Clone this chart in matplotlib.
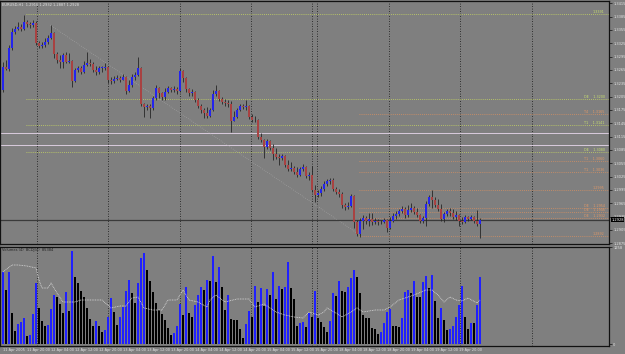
import matplotlib
matplotlib.use("Agg")
import matplotlib.pyplot as plt
import matplotlib.transforms as mtransforms
import numpy as np

W, H = 625, 354
BG = '#7f7f7f'
TXT = '#e4e4e4'

# EURUSD H1, prices in points (1e-4)
open0 = 13220
close_pts = [
    13272, 13267, 13314, 13350, 13357, 13362, 13357, 13373, 13368, 13366,
    13371, 13326, 13319, 13321, 13328, 13337, 13348, 13301, 13288, 13283,
    13299, 13283, 13285, 13240, 13265, 13270, 13260, 13276, 13281, 13278,
    13265, 13260, 13270, 13270, 13272, 13242, 13240, 13245, 13247, 13242,
    13249, 13218, 13231, 13249, 13254, 13270, 13188, 13182, 13184, 13180,
    13202, 13224, 13213, 13204, 13216, 13224, 13220, 13222, 13218, 13263,
    13247, 13222, 13213, 13216, 13198, 13184, 13175, 13168, 13162, 13175,
    13211, 13218, 13200, 13193, 13191, 13188, 13150, 13159, 13175, 13184,
    13182, 13184, 13159, 13152, 13152, 13114, 13108, 13092, 13105, 13090,
    13076, 13069, 13067, 13072, 13051, 13042, 13044, 13036, 13029, 13042,
    13047, 13026, 13029, 12995, 12984, 12988, 12997, 13008, 13015, 13018,
    12997, 12990, 12986, 12961, 12957, 12959, 12982, 12923, 12896, 12925,
    12932, 12925, 12930, 12923, 12925, 12923, 12923, 12928, 12910, 12925,
    12936, 12941, 12948, 12952, 12939, 12950, 12954, 12946, 12939, 12925,
    12932, 12964, 12979, 12972, 12961, 12952, 12930, 12941, 12948, 12943,
    12934, 12939, 12925, 12923, 12934, 12930, 12934, 12925, 12918, 12928]
high_pts = [
    13283, 13288, 13321, 13360, 13364, 13373, 13368, 13389, 13377, 13373,
    13377, 13375, 13330, 13328, 13337, 13344, 13366, 13350, 13306, 13299,
    13303, 13306, 13303, 13288, 13270, 13274, 13274, 13285, 13306, 13290,
    13283, 13274, 13274, 13274, 13281, 13272, 13249, 13252, 13254, 13252,
    13256, 13252, 13242, 13256, 13260, 13294, 13272, 13191, 13188, 13188,
    13206, 13231, 13227, 13216, 13224, 13229, 13227, 13229, 13227, 13270,
    13265, 13249, 13224, 13222, 13218, 13202, 13188, 13180, 13182, 13180,
    13220, 13231, 13220, 13204, 13200, 13198, 13195, 13173, 13180, 13188,
    13188, 13198, 13186, 13166, 13162, 13155, 13123, 13110, 13110, 13108,
    13098, 13090, 13076, 13076, 13074, 13062, 13058, 13049, 13047, 13047,
    13054, 13049, 13036, 13049, 13006, 12995, 13004, 13015, 13020, 13022,
    13022, 13002, 12997, 12990, 12966, 12968, 12986, 12984, 12928, 12932,
    12939, 12936, 12943, 12943, 12932, 12930, 12928, 12932, 12930, 12934,
    12943, 12948, 12952, 12959, 12957, 12961, 12966, 12959, 12954, 12941,
    12936, 12970, 12984, 12995, 12979, 12975, 12964, 12946, 12952, 12954,
    12952, 12948, 12941, 12934, 12939, 12936, 12939, 12936, 12950, 12932]
low_pts = [
    13216, 13265, 13263, 13310, 13346, 13355, 13353, 13355, 13362, 13360,
    13362, 13321, 13314, 13314, 13317, 13324, 13335, 13292, 13281, 13270,
    13270, 13281, 13281, 13227, 13238, 13260, 13256, 13258, 13274, 13274,
    13260, 13254, 13256, 13260, 13265, 13236, 13234, 13236, 13242, 13238,
    13242, 13211, 13216, 13227, 13242, 13252, 13184, 13159, 13175, 13157,
    13175, 13198, 13202, 13198, 13198, 13213, 13216, 13216, 13211, 13216,
    13238, 13216, 13206, 13206, 13193, 13180, 13168, 13157, 13157, 13159,
    13173, 13206, 13195, 13188, 13184, 13182, 13126, 13150, 13157, 13173,
    13177, 13175, 13155, 13148, 13148, 13110, 13103, 13067, 13087, 13085,
    13062, 13065, 13051, 13062, 13047, 13038, 13038, 13031, 13024, 13026,
    13038, 13022, 13018, 12990, 12968, 12979, 12982, 12993, 13004, 13008,
    12993, 12986, 12979, 12954, 12950, 12952, 12957, 12910, 12892, 12889,
    12907, 12918, 12914, 12916, 12918, 12916, 12918, 12921, 12900, 12907,
    12923, 12930, 12936, 12943, 12932, 12934, 12946, 12941, 12934, 12921,
    12921, 12914, 12959, 12954, 12957, 12948, 12925, 12923, 12936, 12936,
    12930, 12928, 12914, 12918, 12921, 12925, 12928, 12921, 12914, 12887]
volume = [
    936, 702, 936, 403, 169, 260, 286, 338, 104, 117,
    390, 793, 468, 299, 234, 247, 455, 637, 611, 520,
    403, 676, 429, 1209, 871, 793, 689, 611, 468, 325,
    234, 299, 234, 156, 182, 351, 598, 416, 247, 351,
    481, 689, 832, 663, 533, 793, 1118, 1183, 962, 819,
    676, 533, 442, 390, 312, 208, 117, 143, 234, 520,
    377, 741, 403, 351, 507, 637, 741, 702, 832,
    819, 1144, 806, 1001, 741, 442, 637, 325, 312, 312,
    195, 78, 260, 429, 351, 754, 546, 728, 494, 715,
    637, 936, 585, 754, 715, 741, 1066, 728, 585, 234,
    273, 286, 221, 403, 351, 689, 338, 286, 221, 156,
    299, 663, 624, 819, 689, 676, 741, 858, 962, 871,
    663, 377, 338, 338, 208, 195, 130, 156, 273, 416,
    455, 234, 234, 221, 338, 676, 702, 663, 819,
    611, 611, 806, 884, 728, 897, 559, 338, 468, 312,
    182, 195, 234, 351, 507, 754, 351, 195, 273, 273, 507, 871]

# dotted average line in the volume window
avg_bars = [0, 3, 5, 8, 11, 12, 13, 15, 16, 18, 20, 24, 26, 29, 33, 36, 39, 41, 43, 45,
            47, 50, 53, 55, 58, 60, 62, 65, 68, 69, 71, 74, 78, 82, 84, 87, 91, 94, 97, 100,
            102, 105, 107, 108, 111, 113, 116, 118, 120, 124, 127, 129, 132, 134, 137, 141,
            143, 145, 147, 149, 151, 153, 155, 158, 159]
avg_vals = [936, 1027, 1027, 1014, 988, 832, 728, 728, 793, 663, 546, 546, 572, 572, 572,
            468, 494, 494, 598, 611, 468, 442, 442, 572, 572, 702, 572, 546, 481, 572,
            637, 546, 585, 585, 481, 520, 416, 377, 351, 338, 416, 377, 416, 468, 403,
            351, 416, 468, 416, 442, 442, 481, 572, 598, 637, 702, 702, 637, 546, 611,
            572, 559, 598, 533, 572]

# chart objects
green_levels = [1.3391, 1.3200, 1.3141, 1.3080]
green_names = ["", "DE", "T1", "DE"]
pink_levels = [1.3123, 1.3096]
orange_levels = [1.3165, 1.3060, 1.3036, 1.2995, 1.2954, 1.2946, 1.2932, 1.2892]
orange_names = ["T4", "T1", "T1", "", "DE", "DE", "DE", ""]
green_start, orange_start = 7.5, 118.5
trend_bars = [15.7, 118]
trend_prices = [1.3366, 1.2898]
separators = [11.3, 35, 59, 82.7, 103, 104.7, 128.7, 152.3, 176.3]

date_labels = ["11 Apr 2005", "11 Apr 20:00", "12 Apr 04:00", "12 Apr 12:00", "12 Apr 20:00",
               "13 Apr 04:00", "13 Apr 12:00", "13 Apr 20:00", "14 Apr 04:00", "14 Apr 12:00",
               "14 Apr 20:00", "15 Apr 04:00", "15 Apr 12:00", "15 Apr 20:00", "18 Apr 04:00",
               "18 Apr 12:00", "18 Apr 20:00", "19 Apr 04:00", "19 Apr 12:00", "19 Apr 20:00"]
price_ticks = [1.2875 + 0.003 * k for k in range(19)]

close = np.array(close_pts) / 1e4
opens = np.r_[open0, close_pts[:-1]] / 1e4
high = np.maximum(np.array(high_pts) / 1e4, np.maximum(opens, close))
low = np.minimum(np.array(low_pts) / 1e4, np.minimum(opens, close))
vol = np.array(volume)
n = len(close)
idx = np.arange(n)

fig = plt.figure(figsize=(W / 100, H / 100), dpi=100, facecolor=BG)


def box(x0, y0, x1, y1):
    return fig.add_axes([x0 / W, 1 - y1 / H, (x1 - x0) / W, (y1 - y0) / H])


ax = box(0, 1, 609, 244)
axv = box(0, 247, 609, 346)
for a in (ax, axv):
    a.set_facecolor(BG)
    a.set_xlim(-1, 202)
    a.set_xticks([])
    a.yaxis.tick_right()
    a.tick_params(axis='y', length=2, width=0.5, color='#111111', labelsize=2.6,
                  labelcolor=TXT, pad=1)
    for s in a.spines.values():
        s.set_color('#111111')
        s.set_linewidth(0.9)
    for b in separators:
        a.axvline(b, color='#151515', ls=(0, (1, 2)), lw=0.6, zorder=1)

ax.set_ylim(1.28735, 1.3420)
ax.set_yticks(price_ticks)
ax.set_yticklabels([f"{t:.4f}" for t in price_ticks])

# objects
for p, nm in zip(green_levels, green_names):
    ax.hlines(p, green_start, 202, color='#c8d860', ls=(0, (1, 1.5)), lw=0.6, zorder=2)
    ax.text(200.5, p, f"{nm}    {p:.4f}" if nm else f"{p:.4f}", ha='right', va='bottom',
            fontsize=2.4, color='#c8e070')
for p in pink_levels:
    ax.axhline(p, color='#d6c8da', lw=0.75, zorder=2)
for p, nm in zip(orange_levels, orange_names):
    ax.hlines(p, orange_start, 202, color='#d89060', ls=(0, (1, 1.5)), lw=0.6, zorder=2)
    ax.text(200.5, p, f"{nm}    {p:.4f}" if nm else f"{p:.4f}", ha='right', va='bottom',
            fontsize=2.4, color='#e09868')
ax.plot(trend_bars, trend_prices, color='#a8a8a8', ls=(0, (1, 2)), lw=0.5, zorder=2)
ax.axhline(close[-1], color='#3a3a3a', lw=0.9, zorder=2)

# candles
up = close >= opens
ax.vlines(idx, low, high, color='#262626', lw=0.6, zorder=3)
body_lo = np.minimum(opens, close)
body_h = np.maximum(np.abs(close - opens), 0.00008)
ax.bar(idx, body_h, bottom=body_lo, width=0.66,
       color=np.where(up, '#2424ee', '#a84242'), lw=0, zorder=4)

trans = mtransforms.blended_transform_factory(ax.transAxes, ax.transData)
ax.text(1.004, close[-1], f"{close[-1]:.4f}", transform=trans, ha='left', va='center',
        fontsize=2.6, color='white',
        bbox=dict(boxstyle='square,pad=0.15', fc='black', ec='none'))
ax.text(0.004, 0.992, f"EURUSD,H1  {opens[-1]:.4f} {high[-1]:.4f} {low[-1]:.4f} {close[-1]:.4f}",
        transform=ax.transAxes, ha='left', va='top', fontsize=2.6, color=TXT)

# volumes
rising = np.r_[True, vol[1:] > vol[:-1]]
axv.bar(idx, vol, width=0.68, color=np.where(rising, '#2020ff', '#000000'), lw=0, zorder=3)
axv.plot(avg_bars, avg_vals, color='#dedede', ls=(0, (1, 1)), lw=0.6, zorder=4)
axv.set_ylim(-26, 1261)
axv.set_yticks([0, 1258])
axv.set_yticklabels(["0", "1258"])
axv.text(0.004, 0.985, "Volumes (4)  BCDJ(4)  85384", transform=axv.transAxes,
         ha='left', va='top', fontsize=2.6, color='#202020')

# time axis
for k, lab in enumerate(date_labels):
    b = 8 * k
    xp = (b + 1) / 203 * 609
    fig.text(xp / W, 1 - 350 / H, lab, ha='left', va='center', fontsize=2.5, color=TXT)

fig.savefig("out.png", dpi=100, facecolor=BG)
